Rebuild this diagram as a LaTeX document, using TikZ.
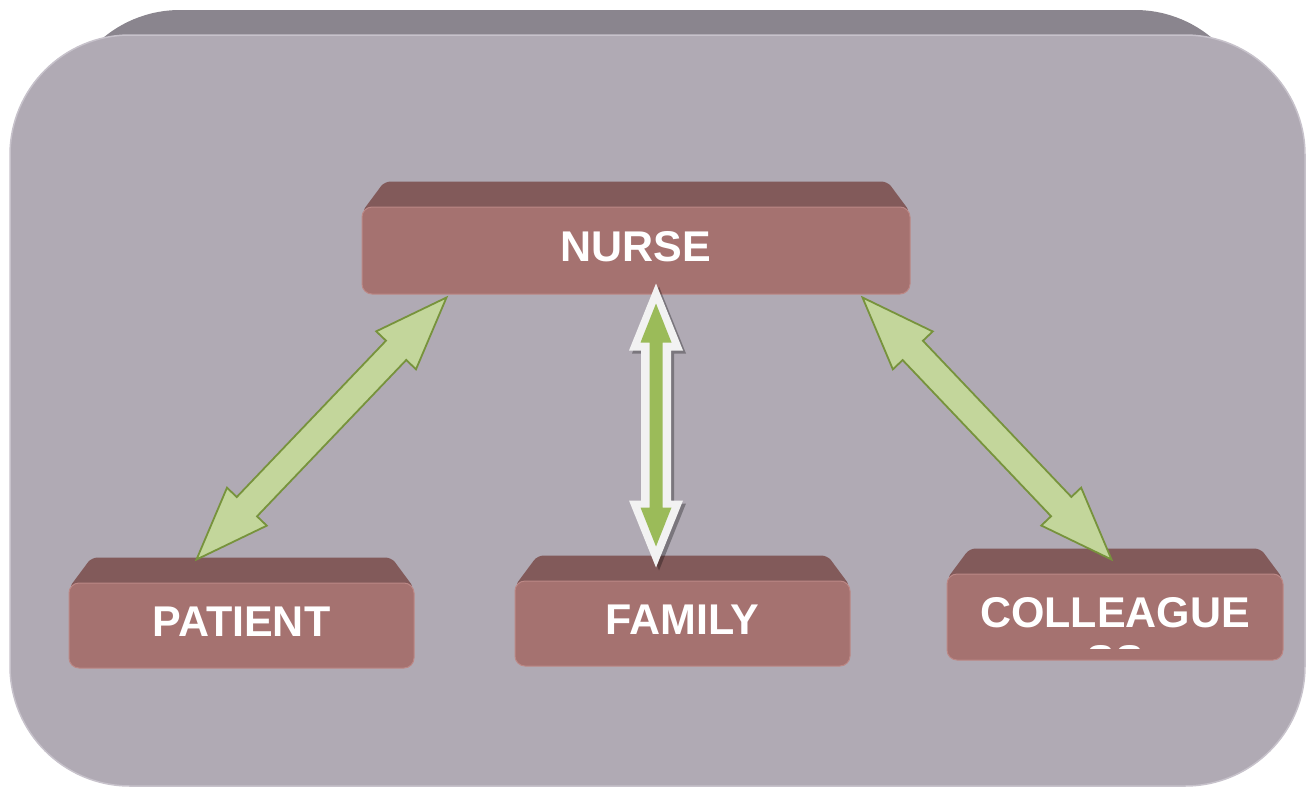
\documentclass[tikz,border=0pt]{standalone}
\usepackage{fontspec}
\setmainfont{Liberation Sans}
\usetikzlibrary{calc}
\pgfdeclarelayer{panel}
\pgfdeclarelayer{bg}
\pgfsetlayers{panel,bg,main}
\definecolor{bodyc}{HTML}{B0AAB4}
\definecolor{bodyedge}{HTML}{C7C2CB}
\definecolor{backc}{HTML}{8A858E}
\definecolor{frontc}{HTML}{A57270}
\definecolor{topc}{HTML}{825A5A}
\definecolor{edgec}{HTML}{BC8886}
\definecolor{lgreen}{HTML}{C3D69B}
\definecolor{dgreen}{HTML}{77933C}
\definecolor{mgreen}{HTML}{9BBB59}
\definecolor{wedge}{HTML}{F2F2F2}
\newcommand\blockarr[6]{%
  \coordinate (ha) at ($(#2)!#4!(#3)$);
  \coordinate (hb) at ($(#3)!#4!(#2)$);
  \path[#1] (#2) -- ($(ha)!#6!90:(#3)$) -- ($(ha)!#5!90:(#3)$)
    -- ($(hb)!#5!-90:(#2)$) -- ($(hb)!#6!-90:(#2)$) -- (#3)
    -- ($(hb)!#6!90:(#2)$) -- ($(hb)!#5!90:(#2)$)
    -- ($(ha)!#5!-90:(#3)$) -- ($(ha)!#6!-90:(#3)$) -- cycle;
}
\newcommand\topface[1]{%
  \begin{pgfonlayer}{bg}
  \path[topfill] ($(#1.north west)+(0,6)$) -- ($(#1.north west)+(23,-25)$)
    -- ($(#1.north east)+(-23,-25)$) -- ($(#1.north east)+(0,6)$) -- cycle;
  \end{pgfonlayer}
}
\tikzset{
  front/.style={rounded corners=10pt, fill=frontc, draw=edgec, line width=1pt,
    text=white, font=\bfseries\fontsize{43}{50}\selectfont, inner sep=0pt, text depth=8pt},
  topfill/.style={fill=topc, rounded corners=6pt},
  lightarrow/.style={fill=lgreen, draw=dgreen, line width=1.8pt, line join=miter},
  whitearrow/.style={fill=wedge},
  greenarrow/.style={fill=mgreen},
  shadowarrow/.style={fill=black, fill opacity=0.3, transform canvas={xshift=3pt,yshift=-3pt}},
}
\begin{document}
\begin{tikzpicture}[x=1pt,y=-1pt]
\useasboundingbox (0,0) rectangle (1312,787);
% outer panel
\begin{pgfonlayer}{panel}
\path[fill=backc, rounded corners=120pt] (60,10) rectangle (1255,300);
\path[fill=bodyc, draw=bodyedge, line width=1.5pt, rounded corners=120pt] (10,35) rectangle (1305,786);
\end{pgfonlayer}
% boxes
\node[front, minimum width=548pt, minimum height=87pt] (nurse) at (636,250.5) {NURSE};
\node[front, minimum width=345pt, minimum height=85pt] (patient) at (241.5,625.5) {PATIENT};
\node[front, minimum width=335pt, minimum height=85pt] (family) at (682.5,623.5) {FAMILY};
\node[front, minimum width=336pt, minimum height=86pt, text depth=10pt] (colleague) at (1115,617) {COLLEAGUE};
\topface{nurse}
\topface{patient}
\topface{family}
\topface{colleague}
\begin{scope}
\clip (945,644) rectangle (1285,648);
\node[text=white, font=\bfseries\fontsize{43}{50}\selectfont, inner sep=0pt] (colleague2) at (1115,661) {SS};
\end{scope}
% arrow end points
\coordinate (lt) at ($(nurse.south west)+(85,3)$);
\coordinate (lb) at ($(patient.north west)+(128,-23)$);
\coordinate (rt) at ($(nurse.south east)+(-48,3)$);
\coordinate (rb) at ($(colleague.north west)+(165,-14)$);
\coordinate (mt) at ($(nurse.south)+(20,-11)$);
\coordinate (mb) at ($(family.north)+(-26.5,-13)$);
\coordinate (mti) at ($(mt)!20pt!(mb)$);
\coordinate (mbi) at ($(mb)!21pt!(mt)$);
% arrows
\blockarr{lightarrow}{lb}{lt}{73pt}{14pt}{27.5pt}
\blockarr{lightarrow}{rb}{rt}{73pt}{14pt}{27.5pt}
\blockarr{shadowarrow}{mt}{mb}{67pt}{15pt}{27pt}
\blockarr{whitearrow}{mt}{mb}{67pt}{15pt}{27pt}
\blockarr{greenarrow}{mti}{mbi}{39pt}{6.5pt}{15.5pt}
\end{tikzpicture}
\end{document}
